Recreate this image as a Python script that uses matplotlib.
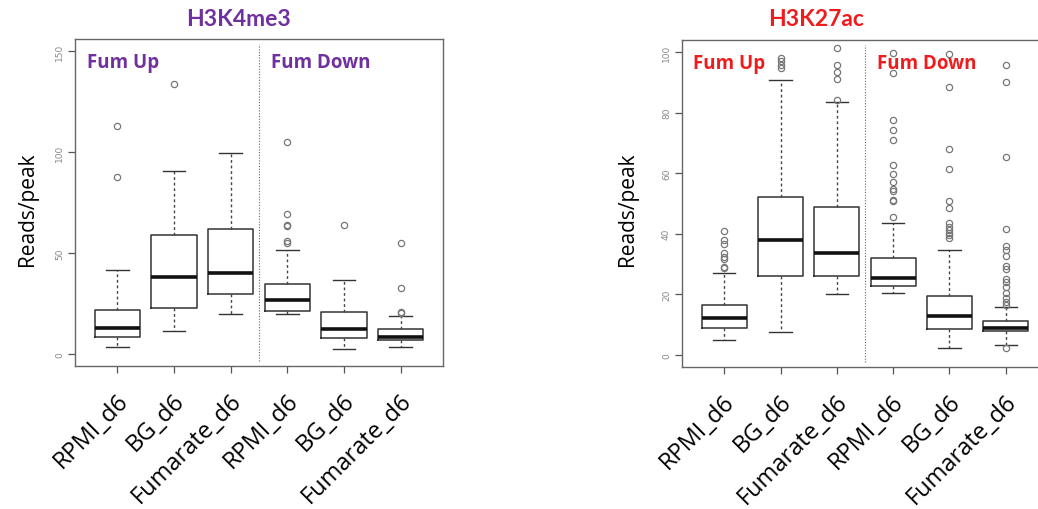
import matplotlib
matplotlib.use("Agg")
import matplotlib.pyplot as plt
import matplotlib.transforms as mtransforms

# Catégories (même ordre dans les deux panneaux)
categories = ["RPMI_d6", "BG_d6", "Fumarate_d6", "RPMI_d6", "BG_d6", "Fumarate_d6"]

# H3K4me3 : statistiques
k4_whislo = [3.5, 11.7, 20.1, 19.8, 2.5, 3.8]
k4_q1 = [8.7, 22.7, 30.0, 21.6, 8.1, 7.3]
k4_med = [12.9, 38.4, 40.1, 27.0, 12.7, 8.4]
k4_q3 = [21.9, 59.2, 62.1, 34.6, 20.8, 12.4]
k4_whishi = [41.7, 90.5, 99.4, 51.4, 36.6, 18.8]
k4_fliers = [
    [87.9, 112.9],
    [133.5],
    [],
    [55.2, 55.9, 63.6, 64.1, 69.6, 105.2],
    [63.8],
    [20.4, 21.1, 32.6, 55.2],
]

# H3K27ac
k27_whislo = [4.9, 7.5, 20.2, 20.4, 2.2, 3.3]
k27_q1 = [8.9, 25.9, 25.9, 22.9, 8.6, 7.8]
k27_med = [12.3, 37.8, 33.8, 25.5, 13.0, 9.0]
k27_q3 = [16.4, 52.3, 48.9, 31.9, 19.5, 11.2]
k27_whishi = [27.0, 90.7, 83.4, 43.4, 34.5, 15.7]
k27_fliers = [
    [28.6, 28.9, 31.6, 32.2, 33.6, 36.6, 37.8, 40.9],
    [94.8, 95.6, 96.9, 98.1],
    [84.3, 91.0, 93.5, 95.9, 101.2],
    [45.7, 50.7, 51.3, 54.0, 54.7, 57.1, 59.6, 62.7, 71.0, 74.3, 77.6, 93.2, 99.7],
    [38.6, 39.6, 40.4, 41.4, 42.4, 43.4, 48.6, 50.7, 61.5, 68.0, 88.5, 99.3],
    [2.3, 16.5, 17.6, 18.9, 20.5, 22.3, 24.0, 25.1, 28.4, 29.3, 32.6, 34.7, 35.8,
     41.6, 65.3, 90.1, 95.7],
]

violet = "#7030A0"
rouge = "#EE1C1C"


def stats(whislo, q1, med, q3, whishi, fliers):
    res = []
    for i in range(len(med)):
        res.append({"whislo": whislo[i], "q1": q1[i], "med": med[i],
                    "q3": q3[i], "whishi": whishi[i], "fliers": fliers[i]})
    return res


def panneau(ax, st, yticks, ylim, couleur, x_up, x_down):
    ax.bxp(st, positions=range(1, 7), widths=0.8, capwidths=0.4,
           boxprops=dict(color="#333333", linewidth=1.1),
           medianprops=dict(color="#111111", linewidth=2.6),
           whiskerprops=dict(color="#444444", linewidth=1.0, linestyle=(0, (2, 2))),
           capprops=dict(color="#333333", linewidth=1.0),
           flierprops=dict(marker="o", markersize=4.5, markerfacecolor="none",
                           markeredgecolor="#777777", markeredgewidth=0.9))
    ax.set_xlim(0.25, 6.75)
    ax.set_ylim(*ylim)
    ax.axvline(3.5, ymin=0.015, ymax=0.985, color="#666666", linewidth=0.8,
               linestyle=(0, (1, 1.5)))
    ax.set_yticks(yticks)
    ax.set_xticks(range(1, 7))
    ax.set_xticklabels([""] * 6)
    ax.tick_params(axis="both", length=5, width=0.9, color="#555555")
    ax.tick_params(axis="y", labelsize=6.5, labelcolor="#888888", labelrotation=90, pad=3)
    for lab in ax.get_yticklabels():
        lab.set_va("center")
    for s in ax.spines.values():
        s.set_color("#666666")
        s.set_linewidth(1.0)
    trans = mtransforms.blended_transform_factory(ax.transData, ax.transAxes) + \
        mtransforms.ScaledTranslation(7 / 100, -31 / 100, fig.dpi_scale_trans)
    for i, c in enumerate(categories):
        ax.text(i + 1, 0, c, transform=trans, rotation=45, ha="right", va="center",
                rotation_mode="anchor", fontsize=17, family="Open Sans")
    ax.text(x_up, 0.93, "Fum Up", transform=ax.transAxes, color=couleur,
            fontsize=13.5, fontweight="bold", family="Open Sans", va="center")
    ax.text(x_down, 0.93, "Fum Down", transform=ax.transAxes, color=couleur,
            fontsize=13.5, fontweight="bold", family="Open Sans", va="center")


fig = plt.figure(figsize=(10.38, 5.10), dpi=100)

ax1 = fig.add_axes([75 / 1038, 1 - 367 / 510, 368 / 1038, 327 / 510])
panneau(ax1, stats(k4_whislo, k4_q1, k4_med, k4_q3, k4_whishi, k4_fliers),
        [0, 50, 100, 150], (-5.8, 155.9), violet, 0.033, 0.533)

ax2 = fig.add_axes([682 / 1038, 1 - 368 / 510, 366 / 1038, 327 / 510])
panneau(ax2, stats(k27_whislo, k27_q1, k27_med, k27_q3, k27_whishi, k27_fliers),
        [0, 20, 40, 60, 80, 100], (-4, 104), rouge, 0.029, 0.532)

fig.text(239 / 1038, 1 - 20 / 510, "H3K4me3", color=violet, fontsize=16.5,
         fontweight="bold", family="Lato", ha="center", va="center")
fig.text(816 / 1038, 1 - 20 / 510, "H3K27ac", color=rouge, fontsize=16.5,
         fontweight="bold", family="Lato", ha="center", va="center")

for x in [27, 628]:
    fig.text(x / 1038, 1 - 209 / 510, "Reads/peak", rotation=90, fontsize=15,
             family="Open Sans", ha="center", va="center")

fig.savefig("out.png", dpi=100)
